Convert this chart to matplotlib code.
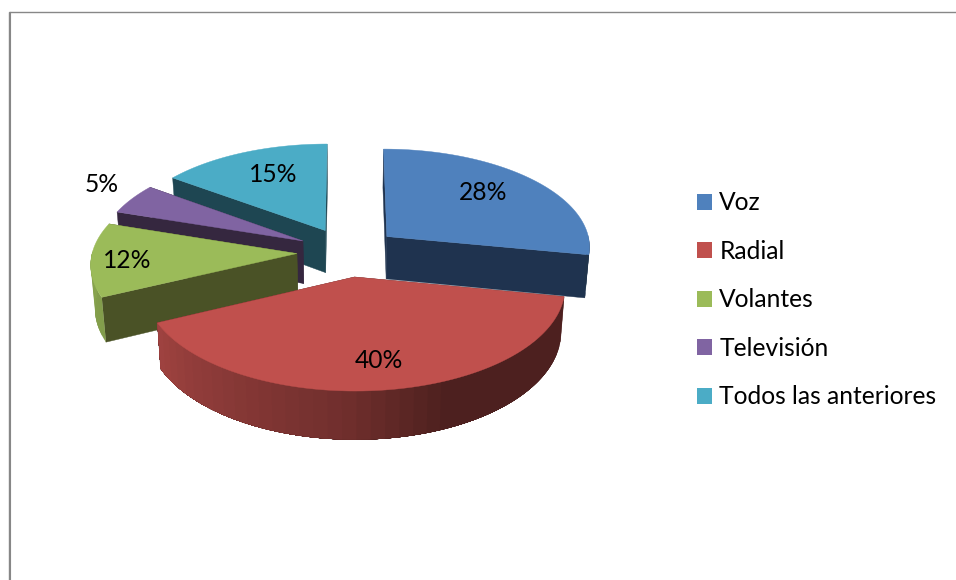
"""
Exploded 3D pie: share of each advertising channel.

matplotlib's own 3D axes has no extruded pie, so the slices are projected by
hand from a flat disk with a small perspective, then painted back to front.
"""

import numpy as np
import matplotlib
matplotlib.use("Agg")
import matplotlib.pyplot as plt
from matplotlib.patches import Patch, Polygon

plt.rcParams["font.family"] = ["Lato", "DejaVu Sans"]

CATEGORIES = ["Voz", "Radial", "Volantes", "Televisión", "Todos las anteriores"]
VALUES = [28, 40, 12, 5, 15]
COLORS = ["#4f81bd", "#c0504d", "#9bbb59", "#8064a2", "#4bacc6"]
WALL_COLORS = ["#1f334f", "#4e1e1d", "#4a5226", "#35273f", "#1e4652"]

# Style only: scene geometry, in pixels
WIDTH, HEIGHT = 956, 580
CX, CY = 348, 252
RADIUS_X, RADIUS_Y = 204.5, 98.4
PERSPECTIVE = 0.0935
EXPLODE = 0.25
DEPTH = 43
LEAN = 0.983  # bottom of the pie is a bit narrower than the top
LABEL_XY = [(483, 192), (379, 360), (127, 260), (102, 184), (273, 174)]
PAINT_ORDER = [4, 0, 3, 2, 1]
RIM_BANDS = 40


def project(u, v):
    """Disk coordinates (v pointing away from the viewer) to screen pixels."""
    den = 1 + PERSPECTIVE * v
    return CX + RADIUS_X * u / den, CY - RADIUS_Y * v / den


def project_bottom(u, v):
    x, y = project(u, v)
    den = 1 + PERSPECTIVE * v
    return CX + (x - CX) * LEAN, y + DEPTH / den


def rim_shade(angle):
    """Side of the pie gets darker from the left round to the right."""
    return np.interp(angle, [90, 155, 180, 245, 270], [0.4, 0.4, 0.58, 0.84, 0.88])


def draw_slice(ax, start, end, color, wall):
    mid = np.radians((start + end) / 2)
    ou, ov = EXPLODE * np.sin(mid), EXPLODE * np.cos(mid)
    angles = np.linspace(start, end, 200)
    au = ou + np.sin(np.radians(angles))
    av = ov + np.cos(np.radians(angles))
    xt, yt = project(au, av)
    xb, yb = project_bottom(au, av)
    ox, oy = project(ou, ov)
    oxb, oyb = project_bottom(ou, ov)

    # cut faces
    for i in (0, -1):
        pts = [(ox, oy), (xt[i], yt[i]), (xb[i], yb[i]), (oxb, oyb)]
        ax.add_patch(Polygon(pts, closed=True, fc=wall, ec=wall, lw=0.3))

    # outer rim, only the part turned toward the viewer. Each band runs on to
    # the end of the rim and the next one paints over it, so no seams show.
    idx = np.where(np.cos(np.radians(angles)) <= 0.02)[0]
    if len(idx) > 1:
        n_bands = max(1, int(RIM_BANDS * (angles[idx[-1]] - angles[idx[0]]) / 144))
        for k in np.linspace(idx[0], idx[-1], n_bands, endpoint=False).astype(int):
            rgb = np.array(matplotlib.colors.to_rgb(color)) * rim_shade(angles[k])
            seg = np.arange(k, idx[-1] + 1)
            pts = list(zip(xt[seg], yt[seg])) + list(zip(xb[seg][::-1], yb[seg][::-1]))
            ax.add_patch(Polygon(pts, closed=True, fc=tuple(rgb), ec="none"))

    # top face
    pts = [(ox, oy)] + list(zip(xt, yt))
    ax.add_patch(Polygon(pts, closed=True, fc=color, ec=color, lw=0.3))


def main():
    fig = plt.figure(figsize=(WIDTH / 100, HEIGHT / 100), dpi=100)
    ax = fig.add_axes([0, 0, 1, 1])
    ax.set_xlim(0, WIDTH)
    ax.set_ylim(HEIGHT, 0)
    ax.axis("off")

    # chart frame, cropped on the right and at the bottom
    ax.plot([9.5, 9.5, WIDTH], [HEIGHT, 11.5, 11.5], color="#878787", lw=1.0,
            solid_joinstyle="miter")
    ax.plot([10.5, 10.5], [HEIGHT, 12], color="#878787", lw=0.8)

    edges = np.cumsum([0] + VALUES) / sum(VALUES) * 360
    for i in PAINT_ORDER:
        draw_slice(ax, edges[i], edges[i + 1], COLORS[i], WALL_COLORS[i])

    for value, (x, y) in zip(VALUES, LABEL_XY):
        ax.text(x, y, f"{value}%", ha="center", va="center", fontsize=17.7, color="black")

    handles = [Patch(fc=c, ec="none") for c in COLORS]
    ax.legend(handles, CATEGORIES, loc="upper left", bbox_to_anchor=(697, 191.5),
              bbox_transform=ax.transData, frameon=False, fontsize=17.7,
              handlelength=0.61, handleheight=0.61, handletextpad=0.3,
              labelspacing=1.035, borderpad=0, borderaxespad=0)

    fig.savefig("out.png", dpi=100)
    plt.close(fig)


if __name__ == "__main__":
    main()
